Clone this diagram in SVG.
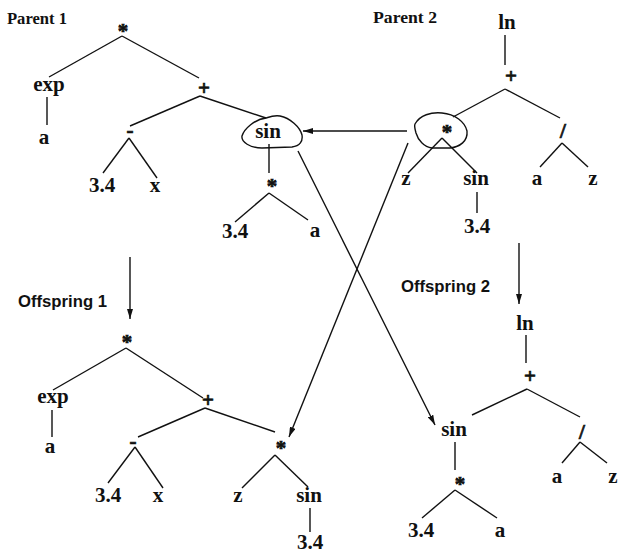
<svg xmlns="http://www.w3.org/2000/svg" width="619" height="553" viewBox="0 0 619 553">
<style>
.bg{fill:#ffffff}
.n{font-family:"Liberation Serif","Times New Roman",serif;font-weight:bold;font-size:21px;fill:#111;text-anchor:middle}
.s{stroke:#111;stroke-width:0.7}
.t{font-family:"Liberation Serif","Times New Roman",serif;font-weight:bold;font-size:16px;fill:#111}
.o{font-family:"Liberation Sans",Arial,sans-serif;font-weight:bold;font-size:16px;fill:#111}
.e{stroke:#111;stroke-width:1.4;fill:none}
.a{stroke:#111;stroke-width:1.4;fill:none;marker-end:url(#ah)}
.b{stroke:#111;stroke-width:1.4;fill:none}
</style>
<defs>
<marker id="ah" viewBox="0 0 10 6" refX="10" refY="3" markerWidth="10" markerHeight="6" orient="auto" markerUnits="userSpaceOnUse">
<path d="M0,0 L10,3 L0,6 Z" fill="#111"/>
</marker>
</defs>
<rect class="bg" x="0" y="0" width="619" height="553"/>

<g id="labels">
<text class="t" x="7" y="24" textLength="60" lengthAdjust="spacingAndGlyphs">Parent 1</text>
<text class="t" x="373" y="23" textLength="64" lengthAdjust="spacingAndGlyphs">Parent 2</text>
<text class="o" x="18" y="307" textLength="89" lengthAdjust="spacingAndGlyphs">Offspring 1</text>
<text class="o" x="401" y="292" textLength="89" lengthAdjust="spacingAndGlyphs">Offspring 2</text>
</g>

<g id="connectors">
<!-- Parent 1 -->
<line class="e" x1="122" y1="36" x2="49" y2="77"/>
<line class="e" x1="122" y1="36" x2="199" y2="78"/>
<line class="e" x1="47" y1="97" x2="47" y2="125"/>
<line class="e" x1="200" y1="96" x2="130" y2="126"/>
<line class="e" x1="200" y1="96" x2="266" y2="118"/>
<line class="e" x1="129" y1="138" x2="103" y2="173"/>
<line class="e" x1="129" y1="138" x2="157" y2="178"/>
<line class="e" x1="269" y1="144" x2="269" y2="173"/>
<line class="e" x1="269" y1="193" x2="235" y2="222"/>
<line class="e" x1="269" y1="193" x2="308" y2="220"/>
<!-- Parent 2 -->
<line class="e" x1="505" y1="35" x2="505" y2="65"/>
<line class="e" x1="505" y1="89" x2="453" y2="117"/>
<line class="e" x1="505" y1="89" x2="560" y2="118"/>
<line class="e" x1="442" y1="138" x2="408" y2="173"/>
<line class="e" x1="442" y1="138" x2="477" y2="173"/>
<line class="e" x1="477" y1="192" x2="477" y2="213"/>
<line class="e" x1="562" y1="143" x2="540" y2="167"/>
<line class="e" x1="562" y1="143" x2="588" y2="167"/>
<!-- Offspring 1 -->
<line class="e" x1="126" y1="348" x2="53" y2="390"/>
<line class="e" x1="126" y1="348" x2="203" y2="398"/>
<line class="e" x1="52" y1="410" x2="52" y2="437"/>
<line class="e" x1="205" y1="408" x2="138" y2="437"/>
<line class="e" x1="205" y1="408" x2="275" y2="432"/>
<line class="e" x1="135" y1="447" x2="108" y2="483"/>
<line class="e" x1="135" y1="447" x2="163" y2="488"/>
<line class="e" x1="275" y1="455" x2="242" y2="488"/>
<line class="e" x1="275" y1="455" x2="308" y2="487"/>
<line class="e" x1="310" y1="508" x2="310" y2="532"/>
<!-- Offspring 2 -->
<line class="e" x1="526" y1="335" x2="526" y2="363"/>
<line class="e" x1="527" y1="389" x2="472" y2="415"/>
<line class="e" x1="527" y1="389" x2="580" y2="417"/>
<line class="e" x1="580" y1="442" x2="562" y2="463"/>
<line class="e" x1="580" y1="442" x2="607" y2="463"/>
<line class="e" x1="455" y1="442" x2="455" y2="470"/>
<line class="e" x1="455" y1="490" x2="422" y2="518"/>
<line class="e" x1="455" y1="490" x2="497" y2="518"/>
<!-- crossover arrows -->
<line class="a" x1="407" y1="131" x2="303" y2="131"/>
<line class="a" x1="408" y1="143" x2="289" y2="437"/>
<line class="a" x1="298" y1="151" x2="435" y2="425"/>
<line class="a" x1="130" y1="257" x2="130" y2="319"/>
<line class="a" x1="519" y1="243" x2="519" y2="304"/>
<!-- selection outlines -->
<path class="b" d="M266 118 C255 119 244 129 242 136 C241 142 250 148 262 148 L292 147 C300 146 303 141 302 135 C300 127 290 118 280 116 C274 115 269 117 266 118 Z"/>
<path class="b" d="M415 124 C420 115 431 112 442 113 C455 114 465 122 467 131 C468 141 460 147 450 148 L432 148 C424 147 418 140 416 133 C415 129 414 126 415 124 Z"/>
</g>

<g id="parent1">
<text class="n s" x="123" y="38">*</text>
<text class="n" x="49" y="91">exp</text>
<text class="n" x="44" y="144">a</text>
<text class="n s" x="204" y="95">+</text>
<text class="n s" x="130" y="137">-</text>
<text class="n" x="102" y="192">3.4</text>
<text class="n" x="155" y="192">x</text>
<text class="n" x="268" y="138">sin</text>
<text class="n s" x="272" y="193">*</text>
<text class="n" x="235" y="238">3.4</text>
<text class="n" x="315" y="237">a</text>
</g>

<g id="parent2">
<text class="n" x="507" y="29">ln</text>
<text class="n s" x="511" y="83">+</text>
<text class="n s" x="447" y="139">*</text>
<text class="n" x="406" y="185">z</text>
<text class="n" x="476" y="185">sin</text>
<text class="n" x="477" y="233">3.4</text>
<text class="n s" x="563" y="138">/</text>
<text class="n" x="537" y="185">a</text>
<text class="n" x="593" y="185">z</text>
</g>

<g id="offspring1">
<text class="n s" x="127" y="349">*</text>
<text class="n" x="53" y="403">exp</text>
<text class="n" x="50" y="453">a</text>
<text class="n s" x="208" y="407">+</text>
<text class="n s" x="133" y="448">-</text>
<text class="n" x="108" y="502">3.4</text>
<text class="n" x="158" y="502">x</text>
<text class="n s" x="281" y="455">*</text>
<text class="n" x="238" y="502">z</text>
<text class="n" x="309" y="502">sin</text>
<text class="n" x="310" y="549">3.4</text>
</g>

<g id="offspring2">
<text class="n" x="525" y="330">ln</text>
<text class="n s" x="530" y="383">+</text>
<text class="n" x="454" y="436">sin</text>
<text class="n s" x="582" y="439">/</text>
<text class="n" x="557" y="483">a</text>
<text class="n" x="613" y="483">z</text>
<text class="n s" x="460" y="491">*</text>
<text class="n" x="421" y="537">3.4</text>
<text class="n" x="500" y="537">a</text>
</g>
</svg>
